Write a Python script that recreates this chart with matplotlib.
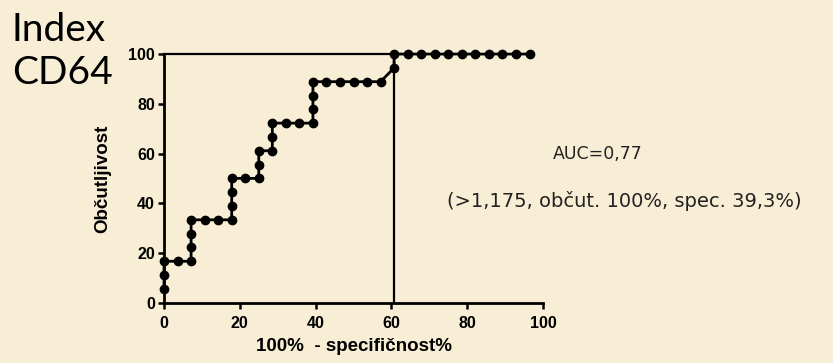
import numpy as np
import matplotlib
matplotlib.use("Agg")
import matplotlib.pyplot as plt

# ROC body: 1 - specificity (%) and sensitivity (%)
fpr = [0, 0, 0, 3.57, 7.14, 7.14, 7.14, 7.14, 10.71, 14.29, 17.86,
       17.86, 17.86, 17.86, 21.43, 25.0, 25.0, 25.0, 28.57, 28.57, 28.57,
       32.14, 35.71, 39.29, 39.29, 39.29, 39.29, 42.86, 46.43, 50.0, 53.57,
       57.14, 60.71, 60.71, 64.29, 67.86, 71.43, 75.0, 78.57, 82.14, 85.71,
       89.29, 92.86, 96.43]
tpr = [5.56, 11.11, 16.67, 16.67, 16.67, 22.22, 27.78, 33.33, 33.33, 33.33, 33.33,
       38.89, 44.44, 50.0, 50.0, 50.0, 55.56, 61.11, 61.11, 66.67, 72.22,
       72.22, 72.22, 72.22, 77.78, 83.33, 88.89, 88.89, 88.89, 88.89, 88.89,
       88.89, 94.44, 100, 100, 100, 100, 100, 100, 100, 100,
       100, 100, 100]

cut_x = 60.71
cut_y = 100
xticks = [0, 20, 40, 60, 80, 100]
yticks = [0, 20, 40, 60, 80, 100]
auc_text = "AUC=0,77"
cut_text = "(>1,175, občut. 100%, spec. 39,3%)"

bg = "#F8EED5"
fig = plt.figure(figsize=(8.33, 3.63), dpi=100, facecolor=bg)
ax = fig.add_axes([0.1969, 0.1661, 0.455, 0.685])
ax.set_facecolor("none")

# crosshair at the cut-off
ax.plot([0, cut_x], [cut_y, cut_y], color="black", lw=1.6, clip_on=False)
ax.plot([cut_x, cut_x], [0, cut_y], color="black", lw=1.6, clip_on=False)

ax.plot(fpr, tpr, color="black", lw=2.0, marker="o", markersize=6,
        clip_on=False, zorder=5)

ax.set_xlim(0, 100)
ax.set_ylim(0, 100)
ax.spines["top"].set_visible(False)
ax.spines["right"].set_visible(False)
for s in ("left", "bottom"):
    ax.spines[s].set_linewidth(2.0)
ax.set_xticks(xticks)
ax.set_yticks(yticks)
ax.tick_params(direction="out", length=4.5, width=1.8)
ax.tick_params(axis="x", pad=5)
ax.tick_params(axis="y", pad=2)
for lab in ax.get_xticklabels() + ax.get_yticklabels():
    lab.set_fontfamily("Liberation Sans")
    lab.set_fontweight("bold")
    lab.set_fontsize(11.5)

ax.set_xlabel("100%  - specifičnost%", fontfamily="Liberation Sans",
              fontweight="bold", fontsize=13.5, labelpad=5)
ax.set_ylabel("Občutljivost", fontfamily="Liberation Sans",
              fontweight="bold", fontsize=13.5, labelpad=12)

ax.text(102.5, 60, auc_text, fontfamily="DejaVu Sans", fontsize=12.5,
        color="#222222", va="center", ha="left", clip_on=False)
ax.text(74.7, 40.8, cut_text, fontfamily="DejaVu Sans", fontsize=14,
        color="#222222", va="center", ha="left", clip_on=False)

fig.text(0.014, 0.918, "Index", fontfamily="Lato", fontsize=28, va="center", ha="left")
fig.text(0.014, 0.80, "CD64", fontfamily="Lato", fontsize=28, va="center", ha="left")

fig.savefig("out.png", dpi=100, facecolor=bg)
